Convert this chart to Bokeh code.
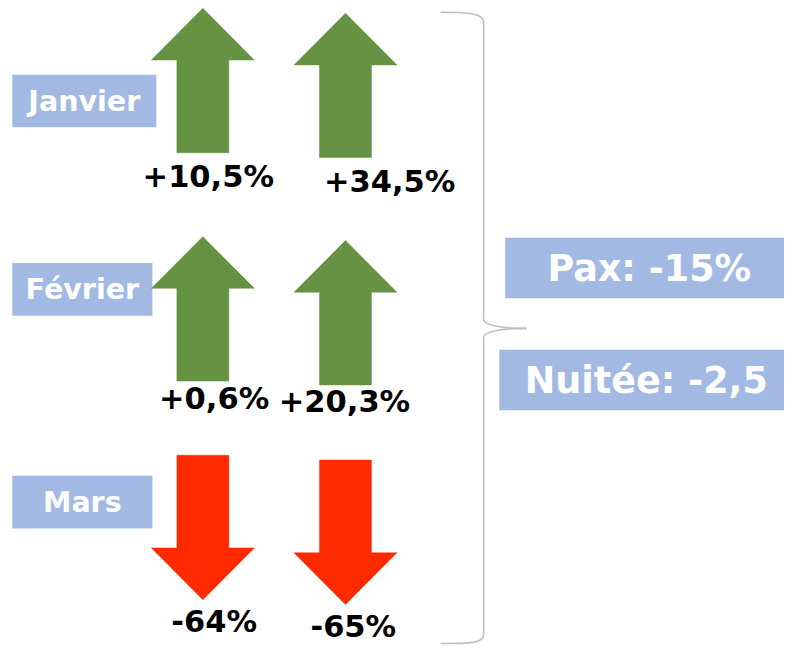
from bokeh.plotting import figure
from bokeh.models import Range1d, ColumnDataSource
from bokeh.core.properties import value
from bokeh.embed import file_html
from bokeh.resources import INLINE

# ---- data ----
months = ["Janvier", "Février", "Mars"]
pax_change = [10.5, 0.6, -64]
nuitee_change = [34.5, 20.3, -65]
total_labels = ["Pax: -15%", "Nuitée: -2,5"]

# ---- layout (reference pixel space 800 x 662) ----
W, H = 784, 646
FONT = value("DejaVu Sans")
GREEN = "#659243"
RED = "#FF2A00"
BOXC = "#A2BAE3"

col_x = [206.5, 352.0]                  # arrow centre x per column
row_top = [[8, 13], [242, 246], [466, 471]]
arrow_len = 148
head_len = 53
head_hw = 52.5
shaft_hw = 26.5

label_pos = [[(212, 180), (397, 185)],
             [(218, 408), (351, 411)],
             [(218, 636), (360, 641)]]

box_rects = [(12, 159, 76, 130), (12, 155, 269, 323), (12, 155, 487, 541)]
box_text_y = [103, 296, 514]

total_boxes = [(515, 800, 243, 305), (509, 800, 358, 420)]
total_text = [(662, 275), (659, 389)]


def fmt(v):
    sign = "+" if v > 0 else "-"
    a = abs(v)
    if float(a).is_integer():
        s = f"{int(a)}"
    else:
        s = f"{a:.1f}".replace(".", ",")
    return f"{sign}{s}%"


p = figure(width=W, height=H, output_backend="svg", toolbar_location=None,
           x_range=Range1d(0, 800), y_range=Range1d(662, 0),
           min_border=0)
p.axis.visible = False
p.grid.visible = False
p.outline_line_color = None
p.background_fill_color = "white"

# month boxes
p.quad(left=[b[0] for b in box_rects], right=[b[1] for b in box_rects],
       top=[b[2] for b in box_rects], bottom=[b[3] for b in box_rects],
       fill_color=BOXC, line_color=None)
p.text(x=[(b[0] + b[1]) / 2 for b in box_rects], y=box_text_y, text=months,
       text_font=FONT, text_font_style="bold", text_font_size="28.5px",
       text_color="white", text_align="center", text_baseline="middle")

# arrows
xs, ys, colors = [], [], []
lx, ly, lt = [], [], []
for i in range(len(months)):
    for j, vals in enumerate([pax_change, nuitee_change]):
        v = vals[i]
        cx = col_x[j]
        top = row_top[i][j]
        bot = top + arrow_len
        if v >= 0:
            hb = top + head_len
            px = [cx, cx + head_hw, cx + shaft_hw, cx + shaft_hw, cx - shaft_hw, cx - shaft_hw, cx - head_hw]
            py = [top, hb, hb, bot, bot, hb, hb]
            colors.append(GREEN)
        else:
            hb = bot - head_len
            px = [cx - shaft_hw, cx + shaft_hw, cx + shaft_hw, cx + head_hw, cx, cx - head_hw, cx - shaft_hw]
            py = [top, top, hb, hb, bot, hb, hb]
            colors.append(RED)
        xs.append(px)
        ys.append(py)
        lx.append(label_pos[i][j][0])
        ly.append(label_pos[i][j][1])
        lt.append(fmt(v))

src = ColumnDataSource(dict(xs=xs, ys=ys, c=colors))
p.patches("xs", "ys", source=src, fill_color="c", line_color="c", line_width=0.5)
p.text(x=lx, y=ly, text=lt, text_font=FONT, text_font_style="bold",
       text_font_size="30.5px", text_color="black", text_align="center",
       text_baseline="middle")

# brace
BR = "#BFBFBF"
bx, tipx = 493, 537
p.bezier(x0=[449, bx, tipx, bx], y0=[12, 327, 336, 650],
         x1=[bx, tipx, bx, 449], y1=[22, 336, 345, 659],
         cx0=[481, bx, 518, bx], cy0=[12, 334, 336, 658],
         cx1=[bx, 518, bx, 481], cy1=[14, 336, 338, 659],
         line_color=BR, line_width=1.6)
p.segment(x0=[bx, bx], y0=[22, 345], x1=[bx, bx], y1=[327, 650],
          line_color=BR, line_width=1.6)

# totals
p.quad(left=[b[0] for b in total_boxes], right=[b[1] for b in total_boxes],
       top=[b[2] for b in total_boxes], bottom=[b[3] for b in total_boxes],
       fill_color=BOXC, line_color=None)
p.text(x=[t[0] for t in total_text], y=[t[1] for t in total_text], text=total_labels,
       text_font=FONT, text_font_style="bold", text_font_size="36.5px",
       text_color="white", text_align="center", text_baseline="middle")

open("out.html", "w").write(file_html(p, INLINE))
